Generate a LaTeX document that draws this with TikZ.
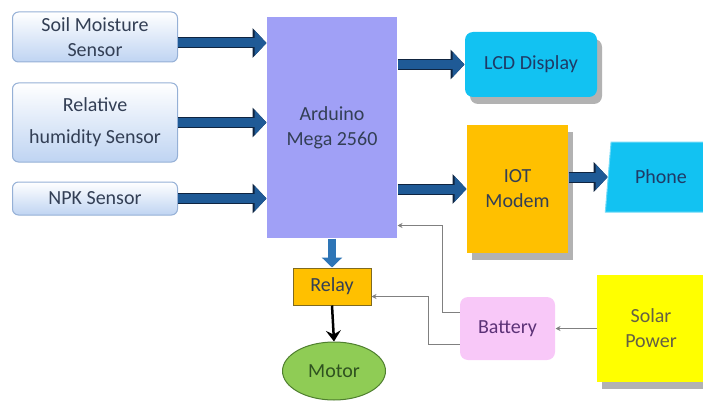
\documentclass[tikz,border=0pt]{standalone}
\usepackage{fontspec}
\setmainfont{Carlito}
\usetikzlibrary{arrows.meta, shapes.geometric, shadows}
\definecolor{cink}{HTML}{333F55}
\definecolor{csensor}{HTML}{BFD4F2}
\definecolor{csensorline}{HTML}{95B0D6}
\definecolor{cmega}{HTML}{A0A0F6}
\definecolor{clcd}{HTML}{12C2F2}
\definecolor{clcdink}{HTML}{1F3A66}
\definecolor{ciot}{HTML}{FFC000}
\definecolor{crelayline}{HTML}{7F6A20}
\definecolor{cmotor}{HTML}{8FCC55}
\definecolor{cmotorline}{HTML}{4F7F2F}
\definecolor{cmotorink}{HTML}{2F5220}
\definecolor{cbattery}{HTML}{F8C8F8}
\definecolor{csolar}{HTML}{FFFF00}
\definecolor{cflow}{HTML}{1F5A96}
\definecolor{cflowdark}{HTML}{0F2440}
\definecolor{cdown}{HTML}{2E75B6}
\definecolor{cfeed}{HTML}{808080}
\tikzset{
  every picture/.style={font=\fontsize{20}{25}\selectfont, line width=1pt},
  sensor/.style={draw=csensorline, top color=white, bottom color=csensor, rounded corners=6pt, minimum width=165pt, align=center, inner sep=0pt, text=cink},
  block/.style={fill=#1, align=center, inner sep=0pt, text=cink},
  raised/.style={drop shadow={shadow xshift=5pt, shadow yshift=-7pt, fill=black, opacity=0.3}},
  flow/.style={draw=cflow, line width=9pt, -{Triangle[length=12pt, width=25pt]}, preaction={draw=cflowdark, line width=11pt, -{Triangle[length=14pt, width=29pt]}}},
  drive/.style={draw=black, line width=2.5pt, -{Stealth[length=11pt, width=15pt, inset=4pt]}},
  feed/.style={draw=cfeed, line width=1.2pt, -{Stealth[length=5pt, width=5pt]}},
}

\begin{document}
\begin{tikzpicture}[x=1pt, y=-1pt]
  \useasboundingbox (0,0) rectangle (703,401);
  % sensors
  \node[sensor, minimum height=50pt] (soil) at (95,37) {Soil Moisture\\Sensor};
  \node[sensor, minimum height=79pt] (hum) at (95,122.5) {Relative\\[7pt]humidity Sensor};
  \node[sensor, minimum height=33pt] (npk) at (95,198.5) {NPK Sensor};
  % controller and outputs
  \node[block=cmega, minimum width=130pt, minimum height=221pt] (ard) at (332,127.5) {Arduino\\Mega 2560};
  \node[block=clcd, raised, rounded corners=8pt, minimum width=132pt, minimum height=65pt, text=clcdink] (lcd) at (531,64.5) {LCD Display};
  \node[block=ciot, raised, minimum width=101pt, minimum height=128pt] (iot) at (517.5,189) {IOT\\Modem};
  \node[block=clcd, draw=clcd!60, trapezium, trapezium left angle=78, trapezium right angle=102, trapezium stretches=true, minimum width=112pt, minimum height=70pt, text=clcdink] (phone) at (661,177) {Phone};
  \node[block=ciot, draw=crelayline, minimum width=78pt, minimum height=37pt] (relay) at (332,286.5) {Relay};
  \node[ellipse, fill=cmotor, draw=cmotorline, minimum width=103pt, minimum height=58pt, inner sep=0pt, text=cmotorink] (motor) at (334,371) {Motor};
  % power
  \node[block=cbattery, rounded corners=8pt, minimum width=95pt, minimum height=63pt, text=cink!80!magenta] (bat) at (507.5,328.5) {Battery};
  \node[block=csolar, raised, minimum width=108pt, minimum height=107pt, text=black!70!yellow] (solar) at (651,328.5) {Solar\\Power};
  % connections
  \draw[flow] ([yshift=-6pt]soil.east) -- ([yshift=-6pt]ard.west |- soil.east);
  \foreach \s in {hum, npk} \draw[flow] (\s.east) -- (\s.east -| ard.west);
  \draw[flow] (lcd.west -| ard.east) -- (lcd.west);
  \draw[flow] (iot.west -| ard.east) -- (iot.west);
  \draw[flow] (iot.east |- phone.west) -- (phone.west);
  \draw[draw=cdown, line width=8pt, -{Triangle[length=10pt, width=20pt]}] (ard.south) -- (relay.north);
  \draw[drive] (relay.south) -- (motor.north);
  \draw[feed] (solar.west) -- (bat.east);
  \draw[feed] ([yshift=16pt]bat.west) -- ++(-17,0) |- ([yshift=-98pt]ard.east);
  \draw[feed] ([yshift=-16pt]bat.west) -- ++(-31,0) |- ([yshift=-10pt]relay.east);
\end{tikzpicture}
\end{document}
